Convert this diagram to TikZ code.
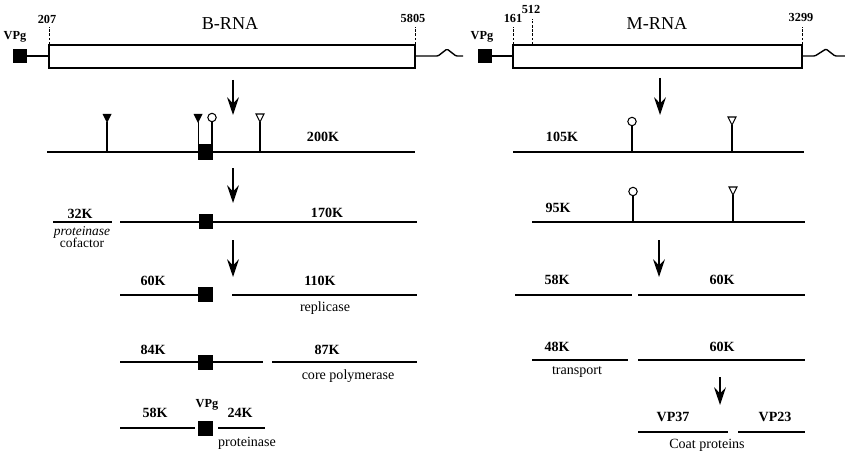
\documentclass[tikz,border=0pt]{standalone}
\usepackage{fontspec}
\setmainfont{Liberation Serif}
\usetikzlibrary{arrows.meta}

\begin{document}
\begin{tikzpicture}[x=0.03cm, y=-0.03cm,
    prot/.style={line width=2.4pt},
    genome/.style={line width=1.2pt},
    tick/.style={dash pattern=on 2pt off 1.5pt, line width=0.8pt},
    stem/.style={line width=0.9pt},
    num/.style={font=\bfseries\fontsize{10.5}{12}\selectfont, inner sep=0pt},
    mass/.style={font=\bfseries\fontsize{12}{14}\selectfont, inner sep=0pt},
    note/.style={font=\fontsize{12}{14}\selectfont, inner sep=0pt},
    title/.style={font=\fontsize{15.5}{18}\selectfont, inner sep=0pt},
    arrow/.style={-{Stealth[length=15pt, width=10pt, inset=5pt]}, line width=1.5pt},
    ftri/.pic={\fill (-4.5,0) -- (4.5,0) -- (0,9) -- cycle;},
    otri/.pic={\draw[line width=0.9pt, fill=white] (-4,0) -- (4,0) -- (0,8) -- cycle;},
    vpg/.pic={\fill (-7,-7) rectangle (7,7);}
]
\useasboundingbox (0,0) rectangle (845,454);

% B-RNA
\pic at (20,56) {vpg};
\node[num] (vpgb) at (15,37) {VPg};
\draw[genome] (27,56) -- (49,56);
\draw[genome] (49,45) rectangle (415,68);
\draw[genome, rounded corners=1pt] (415,56) -- (438,56) -- (447,49) -- (456,56) -- (463,56);
\draw[tick] (49,44) -- (49,27);
\draw[tick] (415,44) -- (415,27);
\node[num] (b207) at (47,19) {207};
\node[num] (b5805) at (413,18) {5805};
\node[title] (brna) at (230,24) {B-RNA};

% M-RNA
\pic at (485,56) {vpg};
\node[num] (vpgm) at (482,37) {VPg};
\draw[genome] (492,56) -- (513,56);
\draw[genome] (513,45) rectangle (802,68);
\draw[genome, rounded corners=1pt] (802,56) -- (815,56) -- (826,49) -- (835,56) -- (845,56);
\draw[tick] (513,44) -- (513,27);
\draw[tick] (532,44) -- (532,19);
\draw[tick] (802,44) -- (802,27);
\node[num] (m161) at (513,18) {161};
\node[num] (m512) at (531,9) {512};
\node[num] (m3299) at (801,17) {3299};
\node[title] (mrna) at (657,24) {M-RNA};

% processing arrows
\coordinate (ba1) at (233,80);  \coordinate (bb1) at (233,115);
\coordinate (ba2) at (233,168); \coordinate (bb2) at (233,203);
\coordinate (ba3) at (233,240); \coordinate (bb3) at (233,277);
\coordinate (ma1) at (660,78);  \coordinate (mb1) at (660,115);
\coordinate (ma2) at (659,240); \coordinate (mb2) at (659,277);
\coordinate (ma3) at (720,377); \coordinate (mb3) at (720,405);
\foreach \s/\e in {ba1/bb1, ba2/bb2, ba3/bb3, ma1/mb1, ma2/mb2, ma3/mb3}
    \draw[arrow] (\s) -- (\e);

% B-RNA products
\draw[prot] (47,152) -- (415,152);
\draw[stem] (107,152) -- (107,122);
\pic at (107,114) {ftri};
\draw[stem] (198.5,145) -- (198.5,122);
\pic at (198,114) {ftri};
\draw[stem] (212,145) -- (212,122);
\draw[line width=0.9pt, fill=white] (212,117.5) circle[radius=4.2];
\fill (198,144) rectangle (213,160);
\draw[stem] (260,152) -- (260,122);
\pic at (260,114) {otri};
\node[mass] (k200) at (323,137) {200K};

\draw[prot] (53,222) -- (112,222);
\draw[prot] (120,222) -- (417,222);
\fill (199,214) rectangle (213,229);
\node[mass] (k32) at (80,214) {32K};
\node[note, font=\itshape\fontsize{11.5}{13}\selectfont] (pcof) at (82,232) {proteinase};
\node[note, font=\fontsize{11.5}{13}\selectfont] (cof) at (82,243) {cofactor};
\node[mass] (k170) at (327,213) {170K};

\draw[prot] (120,295) -- (200,295);
\fill (198,287) rectangle (213,302);
\draw[prot] (232,295) -- (417,295);
\node[mass] (k60) at (153,281) {60K};
\node[mass] (k110) at (320,281) {110K};
\node[note] (rep) at (325,308) {replicase};

\draw[prot] (120,362) -- (263,362);
\fill (198,355) rectangle (213,370);
\draw[prot] (272,362) -- (417,362);
\node[mass] (k84) at (153,350) {84K};
\node[mass] (k87) at (327,350) {87K};
\node[note] (core) at (348,376) {core polymerase};

\draw[prot] (120,428) -- (195,428);
\fill (198,421) rectangle (213,436);
\draw[prot] (218,428) -- (265,428);
\node[mass] (k58b) at (155,413) {58K};
\node[num] (vpgp) at (207,405) {VPg};
\node[mass] (k24) at (240,413) {24K};
\node[note] (prot) at (247,443) {proteinase};

% M-RNA products
\draw[prot] (513,152) -- (804,152);
\draw[stem] (632,152) -- (632,126);
\draw[line width=0.9pt, fill=white] (632,121.5) circle[radius=4.2];
\draw[stem] (732,152) -- (732,125);
\pic at (732,117) {otri};
\node[mass] (k105) at (562,137) {105K};

\draw[prot] (532,222) -- (805,222);
\draw[stem] (633,222) -- (633,196);
\draw[line width=0.9pt, fill=white] (633,191.5) circle[radius=4.2];
\draw[stem] (733,222) -- (733,195);
\pic at (733,187) {otri};
\node[mass] (k95) at (558,208) {95K};

\draw[prot] (515,295) -- (632,295);
\draw[prot] (638,295) -- (805,295);
\node[mass] (k58m) at (557,280) {58K};
\node[mass] (k60a) at (722,280) {60K};

\draw[prot] (532,360) -- (628,360);
\draw[prot] (638,360) -- (805,360);
\node[mass] (k48) at (557,347) {48K};
\node[mass] (k60b) at (722,347) {60K};
\node[note] (trans) at (577,372) {transport};

\draw[prot] (638,432) -- (728,432);
\draw[prot] (738,432) -- (805,432);
\node[mass] (vp37) at (673,417) {VP37};
\node[mass] (vp23) at (775,417) {VP23};
\node[note] (coat) at (707,445) {Coat proteins};
\end{tikzpicture}
\end{document}
